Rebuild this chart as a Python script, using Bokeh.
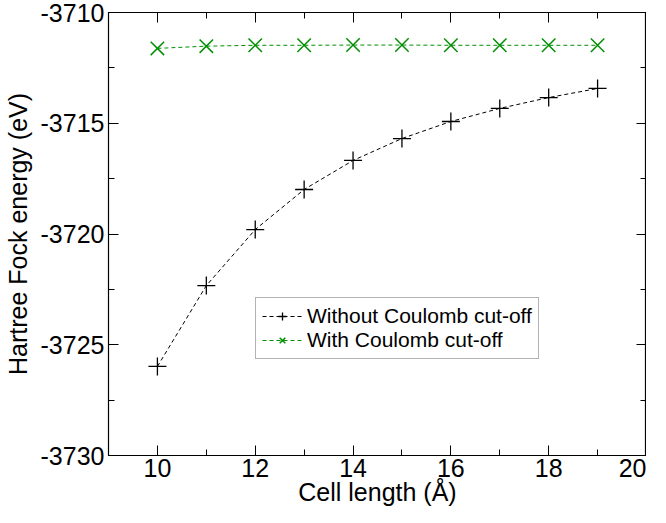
from bokeh.plotting import figure
from bokeh.models import (LinearAxis, SingleIntervalTicker, Legend, LegendItem, Range1d,
                          PrintfTickFormatter, CustomJSTickFormatter)
from bokeh.embed import file_html
from bokeh.resources import INLINE

cell_length = [10, 11, 12, 13, 14, 15, 16, 17, 18, 19]
without_cutoff = [-3725.98, -3722.33, -3719.80, -3717.99, -3716.68,
                  -3715.69, -3714.92, -3714.33, -3713.84, -3713.43]
with_cutoff = [-3711.62, -3711.52, -3711.48, -3711.48, -3711.47,
               -3711.47, -3711.48, -3711.48, -3711.48, -3711.48]

FONT = "Liberation Sans"
GREEN = "#008f00"

p = figure(frame_width=538, frame_height=443, output_backend="svg", toolbar_location=None,
           x_range=Range1d(9, 20), y_range=Range1d(-3730, -3710),
           min_border_left=103, min_border_right=0, min_border_top=12, min_border_bottom=0)
p.xaxis.visible = False
p.yaxis.visible = False
p.grid.visible = False
p.outline_line_color = "black"
p.outline_line_width = 1.2
p.background_fill_color = "white"
p.border_fill_color = "white"

def style(ax, labels=True):
    ax.major_tick_in = 10
    ax.major_tick_out = 0
    ax.minor_tick_in = 6
    ax.minor_tick_out = 0
    ax.axis_line_color = "black"
    ax.major_tick_line_color = "black"
    ax.minor_tick_line_color = "black"
    ax.major_label_text_font = FONT
    ax.major_label_text_color = "black"
    ax.major_label_text_font_size = "25px"
    ax.axis_label_text_font = FONT
    ax.axis_label_text_font_style = "normal"
    ax.axis_label_text_color = "black"
    ax.axis_label_text_font_size = "25px"
    if labels:
        ax.formatter = PrintfTickFormatter(format="%d")
    else:
        ax.formatter = CustomJSTickFormatter(code="return ''")
        ax.major_label_standoff = 0

xb = LinearAxis(ticker=SingleIntervalTicker(interval=2, num_minor_ticks=2),
                axis_label="Cell length (Å)")
style(xb)
xb.major_label_standoff = 3
xb.axis_label_standoff = -2
p.add_layout(xb, "below")

yl = LinearAxis(ticker=SingleIntervalTicker(interval=5, num_minor_ticks=2),
                axis_label="Hartree Fock energy (eV)")
style(yl)
yl.major_label_standoff = 4
yl.axis_label_standoff = 6
p.add_layout(yl, "left")

xa = LinearAxis(ticker=SingleIntervalTicker(interval=2, num_minor_ticks=2))
style(xa, labels=False)
p.add_layout(xa, "above")

yr = LinearAxis(ticker=SingleIntervalTicker(interval=5, num_minor_ticks=2))
style(yr, labels=False)
p.add_layout(yr, "right")

l1 = p.line(cell_length, without_cutoff, line_color="black", line_width=1, line_dash="4 3")
s1 = p.scatter(cell_length, without_cutoff, marker="cross", size=18, line_color="black", line_width=1.3)
l2 = p.line(cell_length, with_cutoff, line_color=GREEN, line_width=1, line_dash="4 3")
s2 = p.scatter(cell_length, with_cutoff, marker="x", size=19, line_color=GREEN, line_width=1.5)

legend = Legend(items=[LegendItem(label="Without Coulomb cut-off", renderers=[l1, s1]),
                       LegendItem(label="With Coulomb cut-off", renderers=[l2, s2])],
                location=(147, 96))
legend.label_text_font = FONT
legend.label_text_font_size = "21px"
legend.label_text_color = "black"
legend.border_line_color = "#666666"
legend.border_line_width = 1.5
legend.background_fill_color = "white"
legend.background_fill_alpha = 1
legend.glyph_width = 40
legend.glyph_height = 20
legend.label_height = 20
legend.label_standoff = 5
legend.padding = 6
legend.spacing = 0
legend.margin = 0
p.add_layout(legend, "center")

open("out.html", "w").write(file_html(p, INLINE))
